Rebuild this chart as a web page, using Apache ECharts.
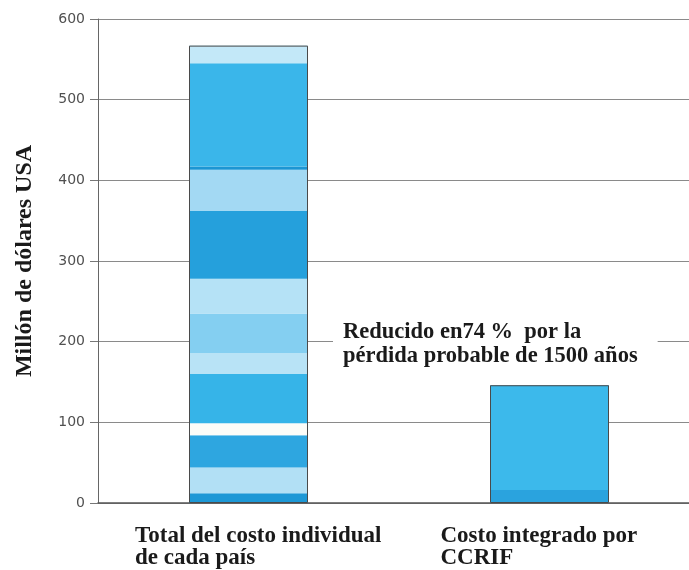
<!DOCTYPE html>
<html>
<head>
<meta charset="utf-8">
<script src="https://cdn.jsdelivr.net/npm/echarts@6/dist/echarts.min.js"></script>
<style>
  html, body { margin: 0; padding: 0; background: #ffffff; overflow: hidden; width: 689px; height: 570px; }
  /* plot extends slightly past the right edge of the page, as the gridlines run off it */
  #chart { width: 700px; height: 570px; }
</style>
</head>
<body>
<div id="chart"></div>
<script>
// Categories along the x axis
const categories = ['Total del costo individual\nde cada país', 'Costo integrado por\nCCRIF'];

// Stacked pieces of the per-country total (bottom to top), million USD
const countrySegments = [12, 32, 40, 15, 61, 26, 49, 43, 84, 51, 4, 128, 22];
const countryShades = ['#1d98d6', '#b2e0f5', '#2ea6e0', '#fcfcf8', '#36b4e8', '#b8e3f6',
                       '#84cff1', '#b5e2f6', '#25a0dc', '#a3d9f3', '#1b96d4', '#3ab6ea', '#c3e8f8'];

// Stacked pieces of the pooled CCRIF cost (bottom to top), million USD
const ccrifSegments = [16, 130];
const ccrifShades = ['#2aa3de', '#3cb9eb'];

// Value axis range and step
const yMin = 0, yMax = 600, yStep = 100;

const yAxisTitle = 'Millón de dólares USA';
const noteLines = ['Reducido en74 %  por la', 'pérdida probable de 1500 años'];

const serif = '"Liberation Serif", "Times New Roman", serif';
const BAR_W = 119;

const sum = a => a.reduce((s, v) => s + v, 0);
const totals = [sum(countrySegments), sum(ccrifSegments)];

const series = [];
countrySegments.forEach((v, i) => {
  series.push({
    type: 'bar', stack: 'cost', barWidth: BAR_W, silent: true,
    data: [v, '-'],
    itemStyle: { color: countryShades[i] }
  });
});
ccrifSegments.forEach((v, i) => {
  series.push({
    type: 'bar', stack: 'cost', barWidth: BAR_W, silent: true,
    data: ['-', v],
    itemStyle: { color: ccrifShades[i] }
  });
});
// thin outline drawn around each whole bar
series.push({
  type: 'bar', barWidth: BAR_W, barGap: '-100%', silent: true, z: 5,
  data: totals,
  itemStyle: { color: 'rgba(0,0,0,0)', borderColor: '#4a4a4a', borderWidth: 1 }
});

const labelStyle = { fontFamily: serif, fontWeight: 'bold', fontSize: 23, color: '#1a1a1a',
                     width: 250, align: 'left', lineHeight: 22 };

const chart = echarts.init(document.getElementById('chart'), null, { renderer: 'canvas' });
chart.setOption({
  animation: false,
  backgroundColor: '#ffffff',
  grid: { left: 98, right: 0, top: 19, bottom: 67 },
  xAxis: {
    type: 'category',
    data: categories,
    axisLine: { lineStyle: { color: '#555555', width: 1.5 } },
    axisTick: { show: false },
    axisLabel: {
      interval: 0,
      margin: 22,
      formatter: (val, idx) => val.split('\n').map(l => '{c' + idx + '|' + l + '}').join('\n'),
      rich: {
        c0: Object.assign({}, labelStyle, { padding: [0, 0, 0, 23] }),
        c1: Object.assign({}, labelStyle, { padding: [0, 0, 0, 32] })
      }
    }
  },
  yAxis: {
    type: 'value',
    min: yMin, max: yMax, interval: yStep,
    name: yAxisTitle,
    nameLocation: 'middle',
    nameGap: 61,
    nameTextStyle: { fontFamily: serif, fontWeight: 'bold', fontSize: 24, color: '#1a1a1a' },
    axisLine: { show: true, lineStyle: { color: '#666666', width: 1 } },
    axisTick: { show: true, length: 8, lineStyle: { color: '#777777' } },
    axisLabel: { margin: 13, fontFamily: '"DejaVu Sans", sans-serif', fontSize: 14, color: '#505050' },
    splitLine: { lineStyle: { color: '#8a8a8a', width: 1 } }
  },
  series: series,
  graphic: [{
    type: 'text',
    left: 333, top: 318, z: 10,
    style: {
      text: noteLines.join('\n'),
      font: 'bold 22.5px ' + serif,
      fill: '#1a1a1a',
      lineHeight: 24,
      backgroundColor: '#ffffff',
      padding: [2, 20, 2, 10]
    }
  }]
});
</script>
</body>
</html>
